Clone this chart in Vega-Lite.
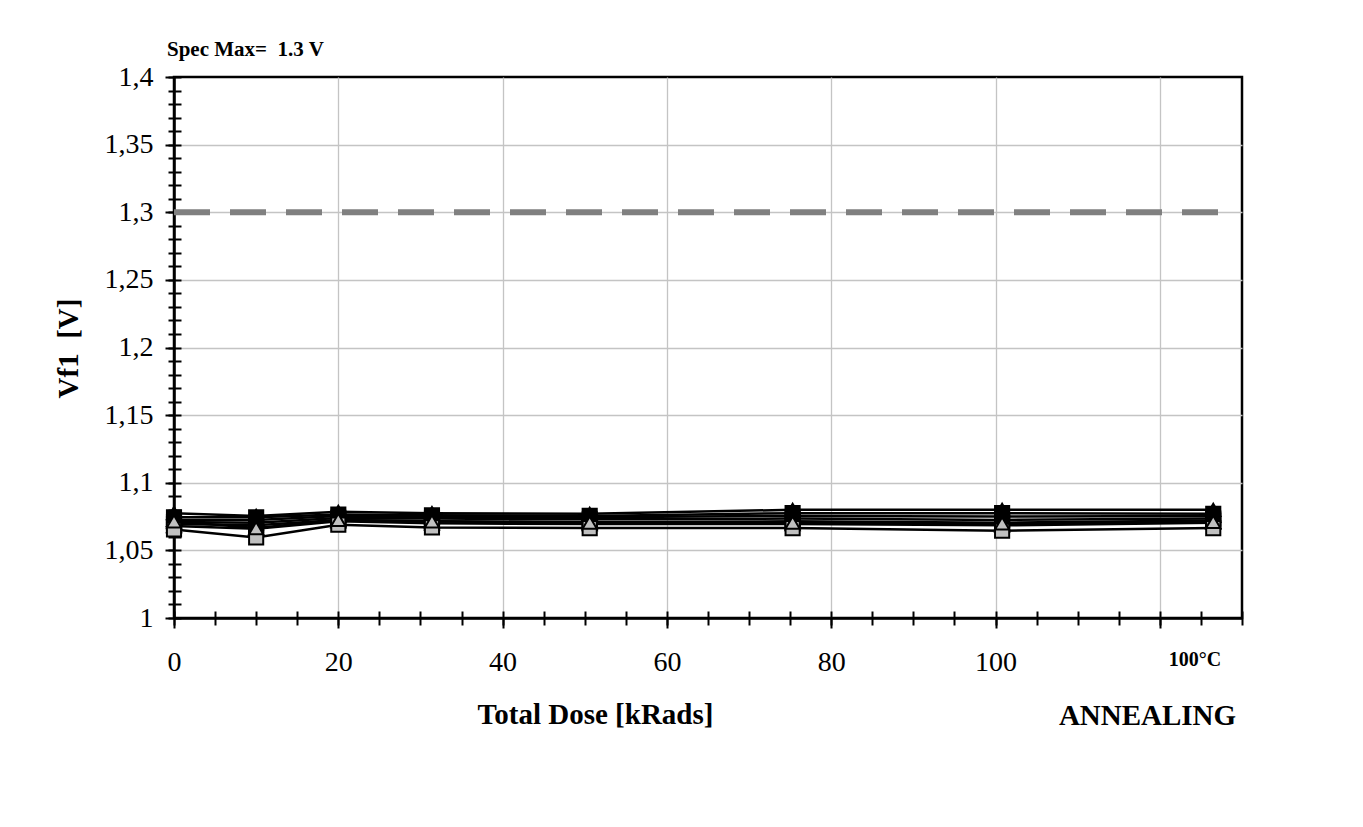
{
  "$schema": "https://vega.github.io/schema/vega-lite/v6.json",
  "width": 1068,
  "height": 541,
  "autosize": {"type": "none"},
  "padding": {"left": 174, "top": 77, "right": 121, "bottom": 209},
  "background": "white",
  "title": {
    "text": "Spec Max=\u00a0 1.3 V",
    "anchor": "start",
    "frame": "group",
    "dx": -7,
    "offset": -14,
    "font": "Liberation Serif",
    "fontSize": 21,
    "fontWeight": "bold",
    "baseline": "alphabetic",
    "color": "black"
  },
  "datasets": {
    "spec": [{"x": 0, "x2": 127.3, "y": 1.3}],
    "meas": [
      {"s": "A", "x": 0, "y": 1.0775}, {"s": "A", "x": 10, "y": 1.0755}, {"s": "A", "x": 20, "y": 1.0785}, {"s": "A", "x": 31.4, "y": 1.0775}, {"s": "A", "x": 50.6, "y": 1.077}, {"s": "A", "x": 75.3, "y": 1.08}, {"s": "A", "x": 100.8, "y": 1.08}, {"s": "A", "x": 126.5, "y": 1.08},
      {"s": "B", "x": 0, "y": 1.0745}, {"s": "B", "x": 10, "y": 1.0745}, {"s": "B", "x": 20, "y": 1.0765}, {"s": "B", "x": 31.4, "y": 1.076}, {"s": "B", "x": 50.6, "y": 1.0755}, {"s": "B", "x": 75.3, "y": 1.0775}, {"s": "B", "x": 100.8, "y": 1.0775}, {"s": "B", "x": 126.5, "y": 1.077},
      {"s": "C", "x": 0, "y": 1.0725}, {"s": "C", "x": 10, "y": 1.0725}, {"s": "C", "x": 20, "y": 1.0755}, {"s": "C", "x": 31.4, "y": 1.0745}, {"s": "C", "x": 50.6, "y": 1.0745}, {"s": "C", "x": 75.3, "y": 1.0755}, {"s": "C", "x": 100.8, "y": 1.075}, {"s": "C", "x": 126.5, "y": 1.0755},
      {"s": "D", "x": 0, "y": 1.071}, {"s": "D", "x": 10, "y": 1.0705}, {"s": "D", "x": 20, "y": 1.074}, {"s": "D", "x": 31.4, "y": 1.0735}, {"s": "D", "x": 50.6, "y": 1.073}, {"s": "D", "x": 75.3, "y": 1.0735}, {"s": "D", "x": 100.8, "y": 1.0725}, {"s": "D", "x": 126.5, "y": 1.0735},
      {"s": "F", "x": 0, "y": 1.0695}, {"s": "F", "x": 10, "y": 1.0685}, {"s": "F", "x": 20, "y": 1.0725}, {"s": "F", "x": 31.4, "y": 1.0715}, {"s": "F", "x": 50.6, "y": 1.071}, {"s": "F", "x": 75.3, "y": 1.0715}, {"s": "F", "x": 100.8, "y": 1.0705}, {"s": "F", "x": 126.5, "y": 1.072},
      {"s": "G", "x": 0, "y": 1.068}, {"s": "G", "x": 10, "y": 1.066}, {"s": "G", "x": 20, "y": 1.0715}, {"s": "G", "x": 31.4, "y": 1.07}, {"s": "G", "x": 50.6, "y": 1.0695}, {"s": "G", "x": 75.3, "y": 1.0695}, {"s": "G", "x": 100.8, "y": 1.0685}, {"s": "G", "x": 126.5, "y": 1.0705},
      {"s": "H", "x": 0, "y": 1.0655}, {"s": "H", "x": 10, "y": 1.0595}, {"s": "H", "x": 20, "y": 1.069}, {"s": "H", "x": 31.4, "y": 1.067}, {"s": "H", "x": 50.6, "y": 1.0665}, {"s": "H", "x": 75.3, "y": 1.0665}, {"s": "H", "x": 100.8, "y": 1.0645}, {"s": "H", "x": 126.5, "y": 1.0665},
      {"s": "E", "x": 0, "y": 1.0715}, {"s": "E", "x": 10, "y": 1.0665}, {"s": "E", "x": 20, "y": 1.0725}, {"s": "E", "x": 31.4, "y": 1.0715}, {"s": "E", "x": 50.6, "y": 1.0705}, {"s": "E", "x": 75.3, "y": 1.0705}, {"s": "E", "x": 100.8, "y": 1.07}, {"s": "E", "x": 126.5, "y": 1.071}
    ]
  },
  "layer": [
    {
      "data": {"name": "spec"},
      "mark": {"type": "rule", "color": "#808080", "strokeWidth": 6, "strokeDash": [36, 20], "strokeCap": "butt"},
      "encoding": {
        "x": {
          "field": "x", "type": "quantitative",
          "scale": {"domain": [0, 130], "nice": false, "zero": false},
          "axis": {
            "orient": "bottom",
            "title": "Total Dose [kRads]",
            "values": [0, 20, 40, 60, 80, 100, 120],
            "labelExpr": "datum.value <= 100 ? datum.label : ''",
            "labelOverlap": false,
            "labelFlush": false,
            "labelBound": false,
            "grid": true,
            "gridColor": "#c4c4c4",
            "gridWidth": 1.3,
            "gridOpacity": {"condition": {"test": "datum.value > 0", "value": 1}, "value": 0},
            "domainColor": "black",
            "domainWidth": 2.5,
            "tickColor": "black",
            "tickWidth": 2,
            "tickSize": 10,
            "labelPadding": 42,
            "labelBaseline": "alphabetic",
            "labelFont": "Liberation Serif",
            "labelFontSize": 28,
            "labelColor": "black",
            "titleFont": "Liberation Serif",
            "titleFontSize": 29,
            "titleFontWeight": "bold",
            "titleColor": "black",
            "titleX": 421,
            "titleY": 105,
            "titleBaseline": "alphabetic",
            "titleAlign": "center"
          }
        },
        "x2": {"field": "x2"},
        "y": {
          "field": "y", "type": "quantitative",
          "scale": {"domain": [1, 1.4], "nice": false, "zero": false},
          "axis": {
            "orient": "left",
            "title": "Vf1\u00a0 [V]",
            "values": [1, 1.05, 1.1, 1.15, 1.2, 1.25, 1.3, 1.35, 1.4],
            "labelExpr": "replace(format(datum.value, '.2~f'), '.', ',')",
            "labelOverlap": false,
            "labelFlush": false,
            "labelBound": false,
            "grid": true,
            "gridColor": "#c4c4c4",
            "gridWidth": 1.3,
            "gridOpacity": {"condition": {"test": "datum.value > 1.001 && datum.value < 1.399", "value": 1}, "value": 0},
            "domainColor": "black",
            "domainWidth": 2.5,
            "tickColor": "black",
            "tickWidth": 2,
            "tickSize": 9,
            "labelPadding": 12,
            "labelBaseline": "middle",
            "labelFont": "Liberation Serif",
            "labelFontSize": 28,
            "labelColor": "black",
            "titleFont": "Liberation Serif",
            "titleFontSize": 29,
            "titleFontWeight": "bold",
            "titleColor": "black",
            "titleAngle": 270,
            "titleX": -97,
            "titleY": 271,
            "titleBaseline": "alphabetic",
            "titleAlign": "center"
          }
        }
      }
    },
    {
      "data": {"name": "meas"},
      "mark": {"type": "line", "color": "black", "strokeWidth": 2.5},
      "encoding": {
        "x": {
          "field": "x", "type": "quantitative",
          "axis": {
            "orient": "bottom",
            "offset": -7,
            "values": [0, 5, 10, 15, 20, 25, 30, 35, 40, 45, 50, 55, 60, 65, 70, 75, 80, 85, 90, 95, 100, 105, 110, 115, 120, 125, 130],
            "labels": false,
            "domain": false,
            "grid": false,
            "title": null,
            "ticks": true,
            "tickSize": 14,
            "tickColor": "black",
            "tickWidth": 2
          }
        },
        "y": {
          "field": "y", "type": "quantitative",
          "axis": {
            "orient": "left",
            "offset": -7,
            "values": [1, 1.01, 1.02, 1.03, 1.04, 1.05, 1.06, 1.07, 1.08, 1.09, 1.1, 1.11, 1.12, 1.13, 1.14, 1.15, 1.16, 1.17, 1.18, 1.19, 1.2, 1.21, 1.22, 1.23, 1.24, 1.25, 1.26, 1.27, 1.28, 1.29, 1.3, 1.31, 1.32, 1.33, 1.34, 1.35, 1.36, 1.37, 1.38, 1.39, 1.4],
            "labels": false,
            "domain": false,
            "grid": false,
            "title": null,
            "ticks": true,
            "tickSize": 13,
            "tickColor": "black",
            "tickWidth": 2
          }
        },
        "detail": {"field": "s", "type": "nominal"}
      }
    },
    {
      "data": {"name": "meas"},
      "mark": {"type": "point", "filled": true, "stroke": "black", "strokeWidth": 2, "size": 200, "opacity": 1},
      "encoding": {
        "x": {
          "field": "x", "type": "quantitative",
          "axis": {
            "orient": "bottom",
            "values": [124.2],
            "labelExpr": "'100°C'",
            "ticks": false,
            "tickSize": 0,
            "domain": false,
            "grid": false,
            "labelPadding": 47,
            "labelBaseline": "alphabetic",
            "labelFont": "Liberation Serif",
            "labelFontSize": 20,
            "labelFontWeight": "bold",
            "labelColor": "black",
            "labelFlush": false,
            "labelBound": false,
            "title": "ANNEALING",
            "titleFont": "Liberation Serif",
            "titleFontSize": 29,
            "titleFontWeight": "bold",
            "titleColor": "black",
            "titleX": 973,
            "titleY": 106,
            "titleBaseline": "alphabetic",
            "titleAlign": "center"
          }
        },
        "y": {
          "field": "y", "type": "quantitative",
          "axis": {"orient": "left", "domain": false, "ticks": false, "labels": false, "grid": false, "title": null}
        },
        "shape": {
          "field": "s", "type": "nominal", "legend": null,
          "scale": {"domain": ["A", "B", "C", "D", "E", "F", "G", "H"], "range": ["triangle-up", "square", "triangle-up", "square", "triangle-up", "square", "triangle-up", "square"]}
        },
        "fill": {
          "field": "s", "type": "nominal", "legend": null,
          "scale": {"domain": ["A", "B", "C", "D", "E", "F", "G", "H"], "range": ["#000000", "#000000", "#000000", "#000000", "#c0c0c0", "#000000", "#000000", "#c0c0c0"]}
        }
      }
    }
  ],
  "resolve": {"axis": {"x": "independent", "y": "independent"}},
  "config": {
    "view": {"stroke": "black", "strokeWidth": 2.5},
    "font": "Liberation Serif"
  }
}
